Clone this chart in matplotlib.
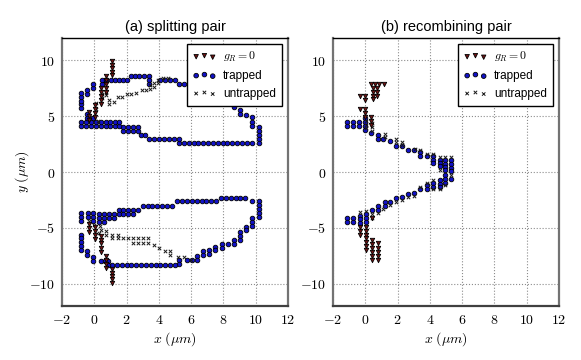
import numpy as np
import matplotlib
matplotlib.use("Agg")
import matplotlib.pyplot as plt
from matplotlib.ticker import FuncFormatter, MultipleLocator

plt.rcParams['mathtext.fontset'] = 'cm'
plt.rcParams['font.family'] = ['Liberation Sans', 'DejaVu Sans']

# (a) splitting pair -- top loop
a_trap_top = np.array([
    (-0.8, 5.7), (-0.8, 6.05), (-0.8, 6.4), (-0.8, 6.75), (-0.8, 7.1),
    (-0.45, 7.0), (-0.45, 7.35), (-0.05, 7.5), (-0.05, 7.85),
    (0.45, 7.9), (0.45, 8.25), (0.75, 8.25),
    (1.05, 8.25), (1.3, 8.25), (1.55, 8.25), (1.8, 8.25), (2.05, 8.25),
    (2.3, 8.6), (2.55, 8.6), (2.8, 8.6), (3.05, 8.6),
    (3.4, 8.6), (3.4, 8.25), (3.4, 7.9),
    (4.1, 8.25), (4.4, 8.25), (4.7, 8.25), (5.0, 8.25),
    (5.25, 7.9), (5.55, 7.85), (6.0, 7.8), (6.5, 7.6), (7.0, 7.3),
    (7.5, 7.0), (8.0, 6.7), (8.3, 6.4),
    (8.65, 6.15), (8.65, 5.8), (9.0, 5.55), (9.0, 5.2), (9.4, 5.1),
    (9.8, 4.9), (9.8, 4.5), (9.8, 4.15),
    (10.2, 4.0), (10.2, 3.65), (10.2, 3.3), (10.2, 2.95), (10.2, 2.6),
    (5.25, 2.6), (5.55, 2.6), (5.85, 2.6), (6.15, 2.6), (6.45, 2.6),
    (6.75, 2.6), (7.05, 2.6), (7.35, 2.6), (7.65, 2.6), (7.95, 2.6),
    (8.25, 2.6), (8.55, 2.6), (8.85, 2.6), (9.15, 2.6), (9.45, 2.6), (9.75, 2.6),
    (3.4, 2.95), (3.7, 2.95), (4.0, 2.95), (4.3, 2.95), (4.6, 2.95),
    (4.95, 2.95), (5.25, 2.95),
    (2.9, 3.3), (3.15, 3.3),
    (1.8, 3.65), (2.1, 3.65), (2.4, 3.65), (2.7, 3.65),
    (1.8, 4.0), (2.1, 4.0), (2.4, 4.0), (2.7, 4.0),
    (-0.8, 4.15), (-0.5, 4.15), (-0.2, 4.15), (0.1, 4.15), (0.4, 4.15),
    (0.7, 4.15), (1.0, 4.15), (1.3, 4.15), (1.55, 4.15),
    (-0.8, 4.5), (-0.5, 4.5), (-0.2, 4.5), (0.1, 4.5), (0.4, 4.5),
    (0.7, 4.5), (1.0, 4.5), (1.3, 4.5), (1.55, 4.5),
    (-0.45, 4.85), (-0.45, 5.2), (-0.1, 4.85),
])
a_untrap_top = np.array([
    (0.9, 6.45), (0.9, 6.1), (1.2, 6.3), (1.45, 6.75), (1.7, 6.75),
    (2.0, 6.95), (2.3, 6.95), (2.6, 7.1), (2.95, 7.3), (3.2, 7.3),
    (3.45, 7.45), (3.45, 7.75), (3.7, 7.6), (3.7, 7.95), (3.95, 7.95),
    (3.95, 8.25), (4.25, 8.45), (4.55, 8.45),
    (0.45, 6.6), (0.45, 6.95), (0.75, 6.9), (0.75, 7.2),
    (0.1, 6.2), (0.1, 5.6), (-0.25, 4.9), (0.2, 4.6),
])
a_grz_top = np.array([
    (1.1, 9.9), (1.1, 9.6), (1.1, 9.3), (1.1, 9.0), (1.1, 8.7),
    (0.75, 8.6), (0.75, 8.25), (0.75, 7.9), (0.75, 7.55), (0.75, 7.2),
    (0.4, 7.5), (0.4, 7.15), (0.4, 6.8), (0.4, 6.45), (0.4, 6.1),
    (0.05, 6.0), (0.05, 5.65), (0.05, 5.3), (0.05, 4.95),
    (-0.35, 5.4), (-0.35, 5.05), (-0.35, 4.7),
])

# (a) splitting pair -- bottom loop
a_trap_bot = np.array([
    (5.15, -2.6), (5.45, -2.6), (5.75, -2.6), (6.05, -2.6), (6.35, -2.6),
    (6.65, -2.6), (6.95, -2.6), (7.25, -2.6), (7.55, -2.6),
    (7.85, -2.35), (8.15, -2.35), (8.45, -2.35), (8.75, -2.35), (9.05, -2.35),
    (9.35, -2.35), (9.75, -2.6),
    (10.2, -2.6), (10.2, -2.95), (10.2, -3.3), (10.2, -3.65), (10.2, -4.0),
    (9.8, -4.15), (9.8, -4.5), (9.8, -4.85), (9.4, -4.9), (9.4, -5.2),
    (9.05, -5.35), (9.05, -5.7), (9.05, -6.05), (8.65, -6.1), (8.65, -6.45),
    (8.3, -6.45), (7.9, -6.45), (7.9, -6.8), (7.5, -6.7), (7.5, -7.0),
    (7.1, -7.0), (7.1, -7.35), (6.75, -7.1), (6.75, -7.4),
    (6.35, -7.5), (6.35, -7.85), (6.05, -7.85), (5.75, -7.85),
    (5.25, -7.85), (5.25, -8.2),
    (1.1, -8.3), (1.4, -8.3), (1.7, -8.3), (2.0, -8.3), (2.3, -8.3),
    (2.6, -8.3), (2.9, -8.3), (3.2, -8.3), (3.5, -8.3), (3.8, -8.3),
    (4.1, -8.3), (4.4, -8.3), (4.7, -8.3), (5.0, -8.3),
    (3.0, -3.0), (3.3, -3.0), (3.6, -3.0), (3.9, -3.0), (4.2, -3.0),
    (4.5, -3.0), (4.8, -3.0),
    (1.5, -3.4), (1.8, -3.4), (2.1, -3.4), (2.4, -3.4), (2.7, -3.4),
    (1.5, -3.75), (1.8, -3.75), (2.1, -3.75), (2.4, -3.75),
    (0.3, -3.8), (0.6, -3.8), (0.9, -3.8), (1.2, -3.8),
    (0.3, -4.15), (0.6, -4.15), (0.9, -4.15), (1.2, -4.15),
    (0.3, -4.45), (0.6, -4.45),
    (-0.8, -3.7), (-0.8, -4.05), (-0.8, -4.4),
    (-0.4, -3.7), (-0.4, -4.05), (-0.05, -3.7), (-0.05, -4.05), (-0.05, -4.4),
    (-0.8, -5.6), (-0.8, -5.95), (-0.8, -6.3), (-0.8, -6.65), (-0.8, -7.0),
    (-0.45, -7.1), (-0.45, -7.45), (-0.05, -7.6), (-0.05, -7.95),
    (0.4, -7.95), (0.65, -7.95), (0.85, -7.95), (0.85, -8.3),
])
a_untrap_bot = np.array([
    (0.4, -5.2), (0.75, -5.25), (0.75, -5.6), (1.1, -5.6), (1.45, -5.6),
    (1.1, -5.95), (1.45, -5.95),
    (1.8, -5.95), (2.1, -5.95), (2.4, -5.95), (2.7, -5.95), (3.0, -5.95),
    (3.3, -5.95), (2.4, -6.35), (2.7, -6.35), (3.0, -6.35), (3.3, -6.35),
    (3.7, -6.5), (4.0, -6.8), (4.4, -7.1), (4.7, -7.1), (4.7, -7.45),
    (5.2, -7.6), (5.55, -7.6), (6.0, -7.9),
    (-0.3, -4.4), (0.0, -4.75), (0.35, -4.85), (0.3, -5.5),
])
a_grz_bot = np.array([
    (-0.35, -4.7), (-0.35, -5.05), (-0.35, -5.4),
    (0.05, -4.95), (0.05, -5.3), (0.05, -5.65), (0.05, -6.0),
    (0.4, -5.7), (0.4, -6.05), (0.4, -6.4), (0.4, -6.8), (0.4, -7.15),
    (0.75, -7.5), (0.75, -7.9), (0.75, -8.25), (0.75, -8.6),
    (1.1, -8.7), (1.1, -9.0), (1.1, -9.3), (1.1, -9.6), (1.1, -9.9),
])

# (b) recombining pair
b_trap = np.array([
    (-1.13, 4.5), (-1.13, 4.15), (-0.76, 4.5), (-0.76, 4.15),
    (-0.39, 4.5), (-0.39, 4.15), (0.0, 4.8), (0.0, 4.45), (0.0, 4.1),
    (0.0, 3.75), (0.38, 3.45), (0.8, 3.3), (0.8, 3.0), (1.1, 3.0),
    (1.5, 2.75), (1.9, 2.3), (2.25, 2.3), (2.65, 1.95), (3.0, 1.95),
    (3.4, 1.8), (3.4, 1.45), (3.8, 1.4), (4.2, 1.4), (4.2, 1.1), (4.2, 0.8),
    (4.6, 1.1), (4.6, 0.8), (4.6, 0.5), (4.95, 1.1), (4.95, 0.75),
    (4.95, 0.45), (4.95, 0.15), (5.3, 1.1), (5.3, 0.75), (5.3, 0.4), (5.3, 0.05),
    (5.3, -0.65), (4.95, -0.3), (4.95, -0.65), (4.95, -1.0),
    (4.6, -0.75), (4.6, -1.05), (4.6, -1.35), (4.2, -0.95), (4.2, -1.3),
    (3.8, -1.2), (3.8, -1.5), (3.4, -1.5), (3.0, -1.9), (2.65, -1.95),
    (2.25, -2.25), (1.9, -2.35), (1.5, -2.7), (1.2, -2.7), (1.2, -3.05),
    (0.8, -3.05), (0.8, -3.4), (0.44, -3.4), (0.05, -3.75), (0.05, -4.1),
    (0.05, -4.45), (-0.35, -3.9), (-0.35, -4.25), (-0.35, -4.6),
    (-0.76, -4.15), (-0.76, -4.5), (-1.13, -4.15), (-1.13, -4.5),
])
b_untrap = np.array([
    (0.07, 4.6), (0.07, 4.25), (0.07, 3.9), (0.44, 4.4), (0.44, 4.05),
    (0.44, 3.7), (1.2, 3.4), (1.2, 3.1), (1.9, 3.0), (1.9, 2.7),
    (2.25, 2.7), (2.25, 2.4), (3.05, 2.1), (3.4, 2.0), (3.8, 1.6),
    (4.2, 1.6), (4.6, 1.3), (4.95, 1.3), (5.3, 1.3), (4.6, 0.2),
    (5.3, -0.3), (4.95, -1.2), (4.6, -1.55), (4.2, -0.7), (4.2, -1.55),
    (3.8, -1.0), (3.4, -1.3), (3.0, -2.15), (2.65, -2.2), (2.25, -2.55),
    (1.9, -2.65), (1.5, -2.95), (1.1, -3.35), (0.8, -3.65), (0.44, -3.75),
    (0.44, -4.1), (0.07, -3.45), (-0.35, -3.6),
])
b_grz = np.array([
    (0.38, 7.9), (0.62, 7.9), (0.87, 7.9), (1.14, 7.9),
    (0.45, 7.55), (0.75, 7.55), (0.45, 7.2), (0.75, 7.2),
    (0.45, 6.85), (0.75, 6.85), (-0.35, 6.8), (0.0, 6.8), (0.0, 6.45),
    (0.45, 6.5), (-0.35, 5.6), (0.0, 5.6), (0.0, 5.25), (0.0, 4.95),
    (0.38, 4.95), (0.38, 4.6), (0.38, 4.25),
    (-0.35, -4.9), (-0.35, -5.25), (-0.35, -5.6),
    (0.07, -4.9), (0.07, -5.25), (0.07, -5.6), (0.07, -5.95),
    (0.07, -6.3), (0.07, -6.65), (0.07, -7.0),
    (0.44, -6.1), (0.44, -6.45), (0.44, -6.8), (0.44, -7.15),
    (0.44, -7.5), (0.44, -7.85),
    (0.8, -6.4), (0.8, -6.8), (0.8, -7.15), (0.8, -7.5), (0.8, -7.85),
    (0.44, -4.1),
])

titles = ['(a) splitting pair', '(b) recombining pair']
labels = [r'$g_R = 0$', 'trapped', 'untrapped']

fig = plt.figure(figsize=(5.81, 3.60), dpi=100)
ax_a = fig.add_axes([62/581, 54/360, 226/581, 268/360])
ax_b = fig.add_axes([333/581, 54/360, 226/581, 268/360])

panels = [
    (ax_a, np.vstack([a_trap_top, a_trap_bot]),
     np.vstack([a_untrap_top, a_untrap_bot]),
     np.vstack([a_grz_top, a_grz_bot])),
    (ax_b, b_trap, b_untrap, b_grz),
]

mathfmt = FuncFormatter(lambda v, p: r'$%d$' % v)

for i, (ax, trap, untrap, grz) in enumerate(panels):
    hc = ax.scatter(trap[:, 0], trap[:, 1], s=11, marker='o', c='#1212c8',
                    edgecolors='black', linewidths=0.6, zorder=3)
    hx = ax.scatter(untrap[:, 0], untrap[:, 1], s=6, marker='x', c='0.1',
                    linewidths=0.7, zorder=4)
    ht = ax.scatter(grz[:, 0], grz[:, 1], s=10, marker='v', c='#6e1414',
                    edgecolors='black', linewidths=0.6, zorder=5)
    ax.set_xlim(-2, 12)
    ax.set_ylim(-12, 12)
    ax.xaxis.set_major_locator(MultipleLocator(2))
    ax.yaxis.set_major_locator(MultipleLocator(5))
    ax.xaxis.set_major_formatter(mathfmt)
    ax.yaxis.set_major_formatter(mathfmt)
    ax.tick_params(length=0, labelsize=10, pad=5)
    ax.grid(True, ls=':', color='0.55', lw=0.8)
    for side in ['left', 'bottom', 'right']:
        ax.spines[side].set_color('0.45')
        ax.spines[side].set_linewidth(1.6)
    ax.spines['bottom'].set_color('0.25')
    ax.spines['top'].set_color('black')
    ax.spines['top'].set_linewidth(1.0)
    ax.set_title(titles[i], fontsize=10.5, pad=5)
    ax.set_xlabel(r'$x\ (\mu m)$', fontsize=10, labelpad=2)
    leg = ax.legend([ht, hc, hx], labels, loc='upper right', fontsize=8.5,
                    scatterpoints=3, fancybox=False, framealpha=1,
                    edgecolor='black', borderaxespad=0.5, handletextpad=0.6,
                    borderpad=0.5, labelspacing=0.5)
    leg.get_frame().set_linewidth(1.0)
    leg.set_zorder(10)

ax_a.set_ylabel(r'$y\ (\mu m)$', fontsize=10)
ax_a.yaxis.set_label_coords(-0.135, 0.5)

fig.savefig('out.png', dpi=100)
